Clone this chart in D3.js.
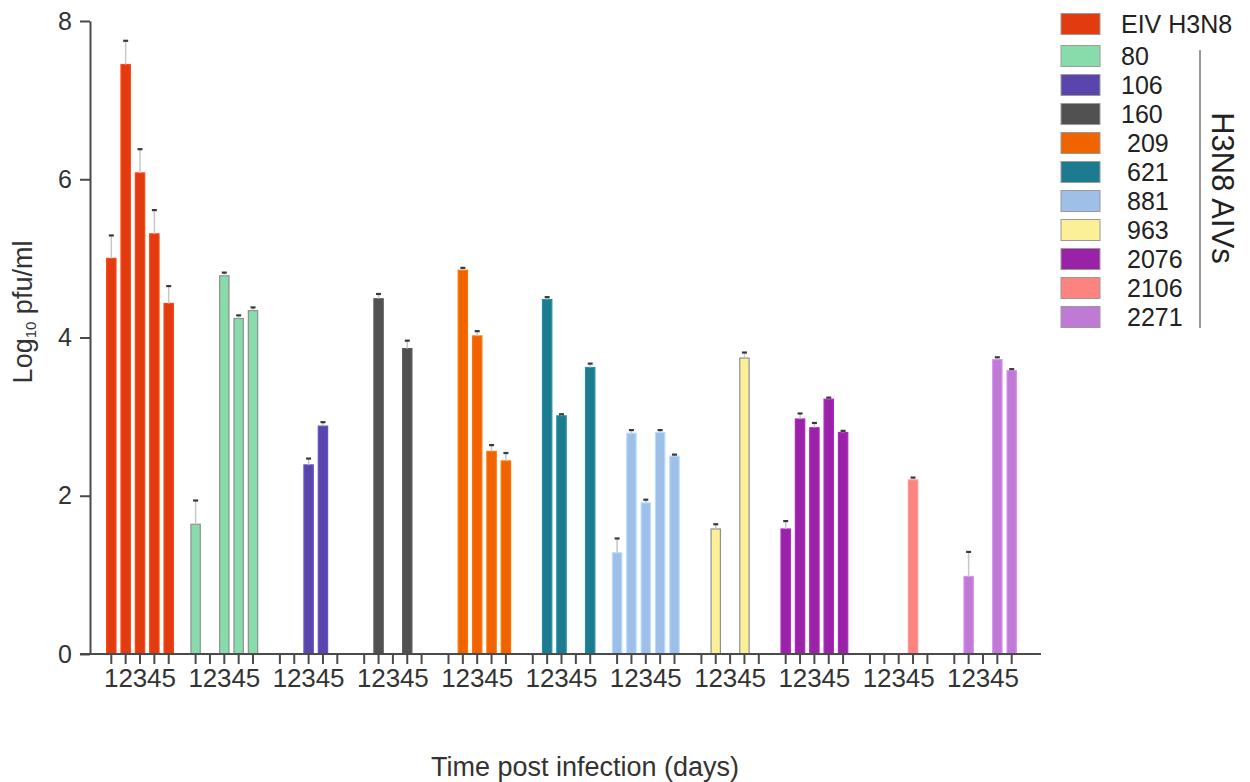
<!DOCTYPE html>
<html lang="en">
<head>
    <meta charset="UTF-8">
    <title>Virus titres</title>
    <script src="https://cdn.jsdelivr.net/npm/d3@7"></script>
    <style>
        body { margin: 0; background: #fff; }
        svg { font-family: "Liberation Sans", Arial, sans-serif; }
    </style>
</head>
<body>
    <div id="chart"></div>

    <script>
        // data (log10 pfu/ml, null = no bar)
        const strains = ["EIV H3N8", "80", "106", "160", "209", "621", "881", "963", "2076", "2106", "2271"];
        const days = [1, 2, 3, 4, 5];
        const titres = [
            [5.0, 7.45, 6.08, 5.31, 4.43],
            [1.64, null, 4.78, 4.24, 4.34],
            [null, null, 2.39, 2.88, null],
            [null, 4.49, null, 3.86, null],
            [null, 4.85, 4.02, 2.56, 2.44],
            [null, 4.48, 3.01, null, 3.62],
            [1.28, 2.79, 1.91, 2.80, 2.50],
            [null, 1.58, null, 3.74, null],
            [1.58, 2.97, 2.86, 3.22, 2.80],
            [null, null, null, 2.20, null],
            [null, 0.98, null, 3.72, 3.58]
        ];
        const errors = [
            [0.29, 0.30, 0.30, 0.30, 0.22],
            [0.30, null, 0.04, 0.04, 0.04],
            [null, null, 0.08, 0.05, null],
            [null, 0.06, null, 0.10, null],
            [null, 0.03, 0.06, 0.08, 0.10],
            [null, 0.03, 0.02, null, 0.05],
            [0.18, 0.04, 0.04, 0.03, 0.02],
            [null, 0.06, null, 0.07, null],
            [0.10, 0.07, 0.06, 0.02, 0.02],
            [null, null, null, 0.03, null],
            [null, 0.31, null, 0.03, 0.02]
        ];
        const colors = ["#e23b10", "#88dcab", "#5a45ad", "#515151", "#f06400", "#1d7b90",
                        "#9dbfe8", "#fbf097", "#9a22a9", "#fd8380", "#bf7ad6"];
        const yTicks = [0, 2, 4, 6, 8];

        const width = 1250, height = 782;
        const svg = d3.select("#chart").append("svg")
            .attr("width", width)
            .attr("height", height);

        const y = d3.scaleLinear().domain([0, 8]).range([654, 21]);

        const xGroup = d3.scaleBand()
            .domain(strains)
            .range([81, 1042])
            .paddingInner(0)
            .paddingOuter(0.2);

        const xDay = d3.scaleBand()
            .domain(days)
            .range([0, xGroup.bandwidth()])
            .paddingInner(0.35)
            .paddingOuter(0.6125);

        const color = d3.scaleOrdinal().domain(strains).range(colors);
        const outlined = new Set(["80", "963"]);

        // bars
        const rows = [];
        strains.forEach((s, i) => {
            days.forEach((d, j) => {
                if (titres[i][j] != null) rows.push({ strain: s, day: d, v: titres[i][j], e: errors[i][j] });
            });
        });

        const barG = svg.append("g");
        barG.selectAll("rect")
            .data(rows)
            .join("rect")
            .attr("x", d => xGroup(d.strain) + xDay(d.day))
            .attr("y", d => y(d.v))
            .attr("width", xDay.bandwidth())
            .attr("height", d => y(0) - y(d.v))
            .attr("fill", d => color(d.strain))
            .attr("stroke", d => outlined.has(d.strain) ? "#8f8f8f" : d3.color(color(d.strain)).brighter(0.4))
            .attr("stroke-width", 1.2);

        // error bars
        const cx = d => xGroup(d.strain) + xDay(d.day) + xDay.bandwidth() / 2;
        const errG = svg.append("g");
        errG.selectAll("line.err")
            .data(rows.filter(d => d.e))
            .join("line")
            .attr("class", "err")
            .attr("x1", cx).attr("x2", cx)
            .attr("y1", d => y(d.v))
            .attr("y2", d => y(d.v + d.e))
            .attr("stroke", "#c8c8c8")
            .attr("stroke-width", 1.5);
        errG.selectAll("line.cap")
            .data(rows.filter(d => d.e))
            .join("line")
            .attr("class", "cap")
            .attr("x1", d => cx(d) - 2.5).attr("x2", d => cx(d) + 2.5)
            .attr("y1", d => y(d.v + d.e))
            .attr("y2", d => y(d.v + d.e))
            .attr("stroke", "#3a3a3a")
            .attr("stroke-width", 2.2);

        // y axis
        const yAxis = svg.append("g")
            .attr("transform", "translate(90,0)")
            .call(d3.axisLeft(y).tickValues(yTicks).tickSize(10).tickSizeOuter(0).tickPadding(8));
        yAxis.selectAll("path, line").attr("stroke", "#4a4a4a").attr("stroke-width", 2);
        yAxis.selectAll("text").attr("font-size", 25).attr("fill", "#333");

        // x axis: baseline + one small axis per strain
        svg.append("line")
            .attr("x1", 80).attr("x2", 1041)
            .attr("y1", y(0)).attr("y2", y(0))
            .attr("stroke", "#4a4a4a").attr("stroke-width", 2);

        strains.forEach(s => {
            const g = svg.append("g")
                .attr("transform", `translate(${xGroup(s)},${y(0)})`)
                .call(d3.axisBottom(xDay).tickSize(10).tickPadding(5));
            g.select(".domain").remove();
            g.selectAll("line").attr("stroke", "#4a4a4a").attr("stroke-width", 2);
            g.selectAll("text").attr("font-size", 26).attr("fill", "#333");
        });

        // axis titles
        const yTitle = svg.append("text")
            .attr("transform", "translate(32,312) rotate(-90)")
            .attr("text-anchor", "middle")
            .attr("font-size", 27)
            .attr("fill", "#333");
        yTitle.append("tspan").text("Log");
        yTitle.append("tspan").attr("font-size", 15).attr("dy", 4).text("10");
        yTitle.append("tspan").attr("dy", -4).text(" pfu/ml");

        svg.append("text")
            .attr("x", 585).attr("y", 776)
            .attr("text-anchor", "middle")
            .attr("font-size", 27)
            .attr("fill", "#333")
            .text("Time post infection (days)");

        // legend
        const legendY = d3.scalePoint().domain(strains.slice(1)).range([56, 317]);
        const rowY = s => s === strains[0] ? 24 : legendY(s);

        const legend = svg.append("g").attr("class", "legend");
        const item = legend.selectAll("g")
            .data(strains)
            .join("g")
            .attr("transform", s => `translate(1061,${rowY(s)})`);
        item.append("rect")
            .attr("x", 0).attr("y", -10.5)
            .attr("width", 39).attr("height", 21)
            .attr("fill", s => color(s))
            .attr("stroke", "#9a9a9a")
            .attr("stroke-width", 1);
        item.append("text")
            .attr("x", (s, i) => i < 4 ? 60 : 66)
            .attr("dy", "0.36em")
            .attr("font-size", 25)
            .attr("fill", "#222")
            .text(s => s);

        legend.append("line")
            .attr("x1", 1200).attr("x2", 1200)
            .attr("y1", 50).attr("y2", 328)
            .attr("stroke", "#777").attr("stroke-width", 1.5);
        legend.append("text")
            .attr("transform", "translate(1212,188) rotate(90)")
            .attr("text-anchor", "middle")
            .attr("font-size", 31)
            .attr("fill", "#222")
            .text("H3N8 AIVs");
    </script>
</body>
</html>
